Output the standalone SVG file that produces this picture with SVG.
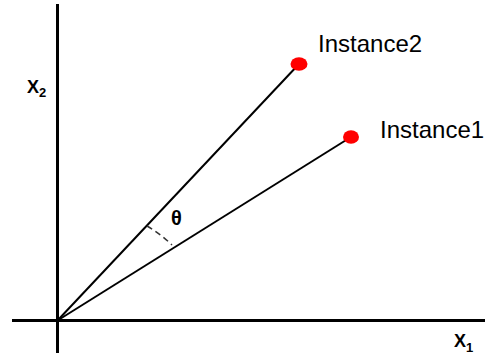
<svg xmlns="http://www.w3.org/2000/svg" width="485" height="356" viewBox="0 0 485 356">
<style>
.axis{stroke:#000;stroke-width:3;fill:none}
.ray{stroke:#000;stroke-width:2;fill:none}
.dot{fill:#f00}
.lbl{font-family:"Liberation Sans","Open Sans",sans-serif;font-size:24px;fill:#000}
.ax{font-family:"Liberation Sans","Open Sans",sans-serif;font-weight:bold;fill:#000}
</style>
<rect width="485" height="356" fill="#fff"/>
<g id="axes">
<line class="axis" x1="57.5" y1="4" x2="57.5" y2="353"/>
<line class="axis" x1="12" y1="320.5" x2="485" y2="320.5"/>
</g>
<g id="connectors">
<line class="ray" x1="57.5" y1="320.5" x2="299" y2="64"/>
<line class="ray" x1="57.5" y1="320.5" x2="351" y2="137"/>
<path d="M147,226 A132,132 0 0 1 172,245" stroke="#333" stroke-width="1.5" fill="none" stroke-dasharray="6,4"/>
</g>
<g id="instance2">
<ellipse class="dot" cx="299" cy="64" rx="8.5" ry="6.8"/>
<text class="lbl" x="318" y="52">Instance2</text>
</g>
<g id="instance1">
<ellipse class="dot" cx="351" cy="137" rx="8" ry="6.8"/>
<text class="lbl" x="380" y="138">Instance1</text>
</g>
<g id="labels">
<text class="ax" x="27" y="93" font-size="18">X<tspan font-size="13" dy="4">2</tspan></text>
<text class="ax" x="454" y="347" font-size="18">X<tspan font-size="13" dy="5">1</tspan></text>
<text class="ax" x="171" y="225" font-size="20">θ</text>
</g>
</svg>
